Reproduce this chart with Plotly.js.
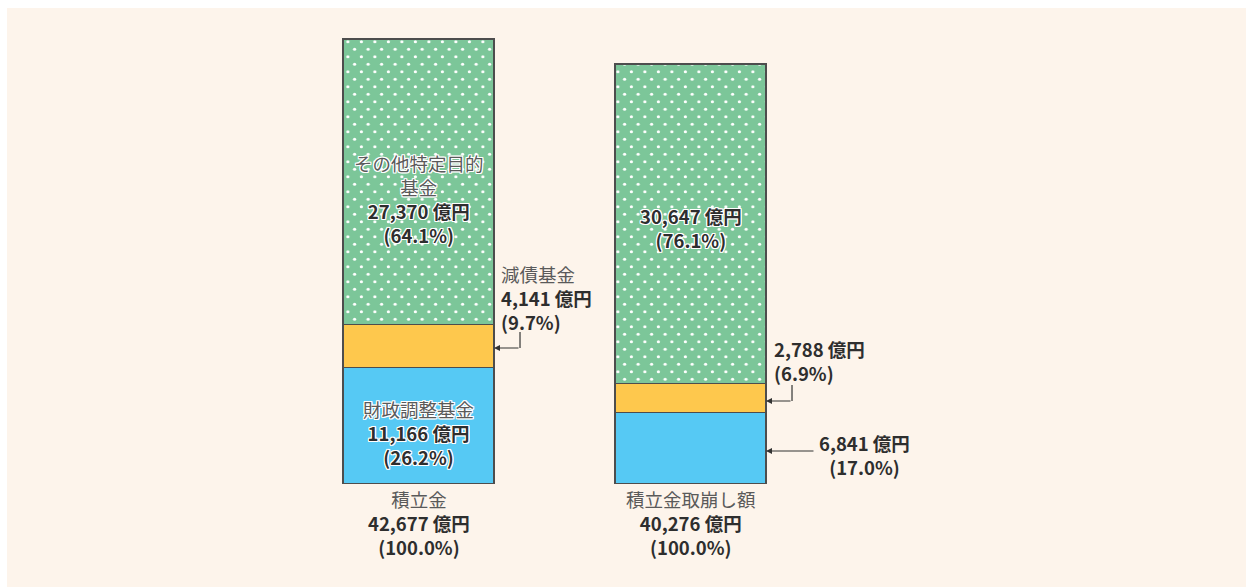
<!DOCTYPE html>
<html>
<head>
<meta charset="utf-8">
<script src="https://cdn.plot.ly/plotly-3.0.1.min.js"></script>
<style>
  html, body { margin: 0; padding: 0; background: #ffffff; }
  #chart { position: absolute; left: 7px; top: 8px; width: 1239px; height: 579px; }
</style>
</head>
<body>
<div id="chart"></div>
<script>
// ---- data ----
const categories = ['積立金', '積立金取崩し額'];
const fiscalAdjustment = [11166, 6841];   // 財政調整基金
const debtReduction = [4141, 2788];       // 減債基金
const otherSpecific = [27370, 30647];     // その他特定目的基金
const totals = [42677, 40276];
const pctFiscal = [26.2, 17.0];
const pctDebt = [9.7, 6.9];
const pctOther = [64.1, 76.1];
const pctTotal = [100.0, 100.0];

const xPos = [0, 1];
const fmt = v => v.toLocaleString('en-US');
const pct = p => '(' + p.toFixed(1) + '%)';

const FONT = '"Noto Sans CJK JP", "Noto Sans", sans-serif';
const GRAY = '#5a5a5a';
const DARK = '#2e2e2e';
const HALO = '1px 0 0 #fff, -1px 0 0 #fff, 0 1px 0 #fff, 0 -1px 0 #fff, 1px 1px 0 #fff, -1px -1px 0 #fff, 1px -1px 0 #fff, -1px 1px 0 #fff';
const BARW = 0.555;
const LINE = '#4d4d4d';
const FS = 18.5;

const traces = [
  { type: 'bar', name: '財政調整基金', x: xPos, y: fiscalAdjustment, width: BARW,
    marker: { color: '#56c9f4', line: { color: LINE, width: 1.2 } }, hoverinfo: 'skip' },
  { type: 'bar', name: '減債基金', x: xPos, y: debtReduction, width: BARW,
    marker: { color: '#fec84d', line: { color: LINE, width: 1.2 } }, hoverinfo: 'skip' },
  { type: 'bar', name: 'その他特定目的基金', x: xPos, y: otherSpecific, width: BARW,
    marker: { color: '#7cc699', line: { color: LINE, width: 1.2 },
      pattern: { shape: '.', bgcolor: '#7cc699', fgcolor: '#ffffff', size: 10, solidity: 0.07, fillmode: 'replace' } },
    hoverinfo: 'skip' }
];

const g = s => '<span style="color:' + GRAY + '">' + s + '</span>';
const b = s => '<b>' + s + '</b>';
const val = v => b(fmt(v) + ' 億円');

function block(x, y, yref, lines, xanchor, halo) {
  return { x: x, y: y, xref: 'x', yref: yref, text: lines.join('<br>'), showarrow: false,
    xanchor: xanchor, yanchor: 'middle', align: xanchor === 'left' ? 'left' : 'center', borderpad: 0,
    font: { family: FONT, size: FS, color: DARK, shadow: halo ? HALO : 'none' } };
}
function arrow(xTip, yTip, xTail, yTail) {
  return { x: xTip, y: yTip, ax: xTail, ay: yTail, xref: 'x', yref: 'y', axref: 'x', ayref: 'y',
    text: '', showarrow: true, arrowhead: 2, arrowsize: 1, arrowwidth: 1.2, arrowcolor: '#333', standoff: 0 };
}

const half = BARW / 2;
const annotations = [
  block(xPos[0], 27285, 'y', [g('その他特定目的'), g('基金'), val(otherSpecific[0]), b(pct(pctOther[0]))], 'center', true),
  block(xPos[0], 4891, 'y', [g('財政調整基金'), val(fiscalAdjustment[0]), b(pct(pctFiscal[0]))], 'center', true),
  block(xPos[1], 24504, 'y', [val(otherSpecific[1]), b(pct(pctOther[1]))], 'center', true),
  block(xPos[0] + 0.2996, 17838, 'y', [g('減債基金'), val(debtReduction[0]), b(pct(pctDebt[0]))], 'left', false),
  block(xPos[1] + 0.3033, 11796, 'y', [val(debtReduction[1]), b(pct(pctDebt[1]))], 'left', false),
  block(xPos[1] + 0.6415, 2781, 'y', [val(fiscalAdjustment[1]), b(pct(pctFiscal[1]))], 'center', false),
  block(xPos[0], -0.0819, 'paper', [g(categories[0]), val(totals[0]), b(pct(pctTotal[0]))], 'center', false),
  block(xPos[1], -0.0819, 'paper', [g(categories[1]), val(totals[1]), b(pct(pctTotal[1]))], 'center', false),
  arrow(xPos[0] + half, 13043, xPos[0] + 0.3732, 13043),
  arrow(xPos[1] + half, 7960, xPos[1] + 0.3732, 7960),
  arrow(xPos[1] + half, 3165, xPos[1] + 0.4577, 3165)
];

const shapes = [
  { type: 'line', xref: 'x', yref: 'y', x0: xPos[0] + 0.3732, x1: xPos[0] + 0.3732, y0: 13043, y1: 14577,
    line: { color: '#333', width: 1.2 } },
  { type: 'line', xref: 'x', yref: 'y', x0: xPos[1] + 0.3732, x1: xPos[1] + 0.3732, y0: 7960, y1: 9494,
    line: { color: '#333', width: 1.2 } }
];

const layout = {
  width: 1239, height: 579,
  margin: { l: 0, r: 0, t: 0, b: 103, pad: 0 },
  paper_bgcolor: '#fdf4eb', plot_bgcolor: 'rgba(0,0,0,0)',
  barmode: 'stack', showlegend: false,
  xaxis: { range: [-1.5129, 3.0423], showgrid: false, zeroline: false, showticklabels: false, showline: false, fixedrange: true },
  yaxis: { range: [0, 45650], showgrid: false, zeroline: false, showticklabels: false, showline: false, fixedrange: true },
  annotations: annotations,
  shapes: shapes,
  font: { family: FONT }
};

Plotly.newPlot('chart', traces, layout, { displayModeBar: false, staticPlot: true }).then(function () {
  // stagger the dot pattern (purely stylistic)
  try {
    document.querySelectorAll('pattern').forEach(function (p) {
      const c = p.querySelector('circle');
      if (!c) return;
      const W = 13.5, H = 15, r = 1.6;
      p.setAttribute('width', W); p.setAttribute('height', H);
      p.querySelectorAll('rect').forEach(function (rc) {
        rc.setAttribute('width', W); rc.setAttribute('height', H);
        rc.setAttribute('x', 0); rc.setAttribute('y', 0);
      });
      c.setAttribute('cx', W / 4); c.setAttribute('cy', H / 4); c.setAttribute('r', r);
      const ns = 'http://www.w3.org/2000/svg';
      const c2 = document.createElementNS(ns, 'circle');
      c2.setAttribute('cx', 3 * W / 4); c2.setAttribute('cy', 3 * H / 4); c2.setAttribute('r', r);
      c2.setAttribute('fill', c.getAttribute('fill') || '#fff');
      if (c.getAttribute('style')) c2.setAttribute('style', c.getAttribute('style'));
      if (c.getAttribute('fill-opacity')) c2.setAttribute('fill-opacity', c.getAttribute('fill-opacity'));
      p.appendChild(c2);
    });
  } catch (e) {}
});
</script>
</body>
</html>
